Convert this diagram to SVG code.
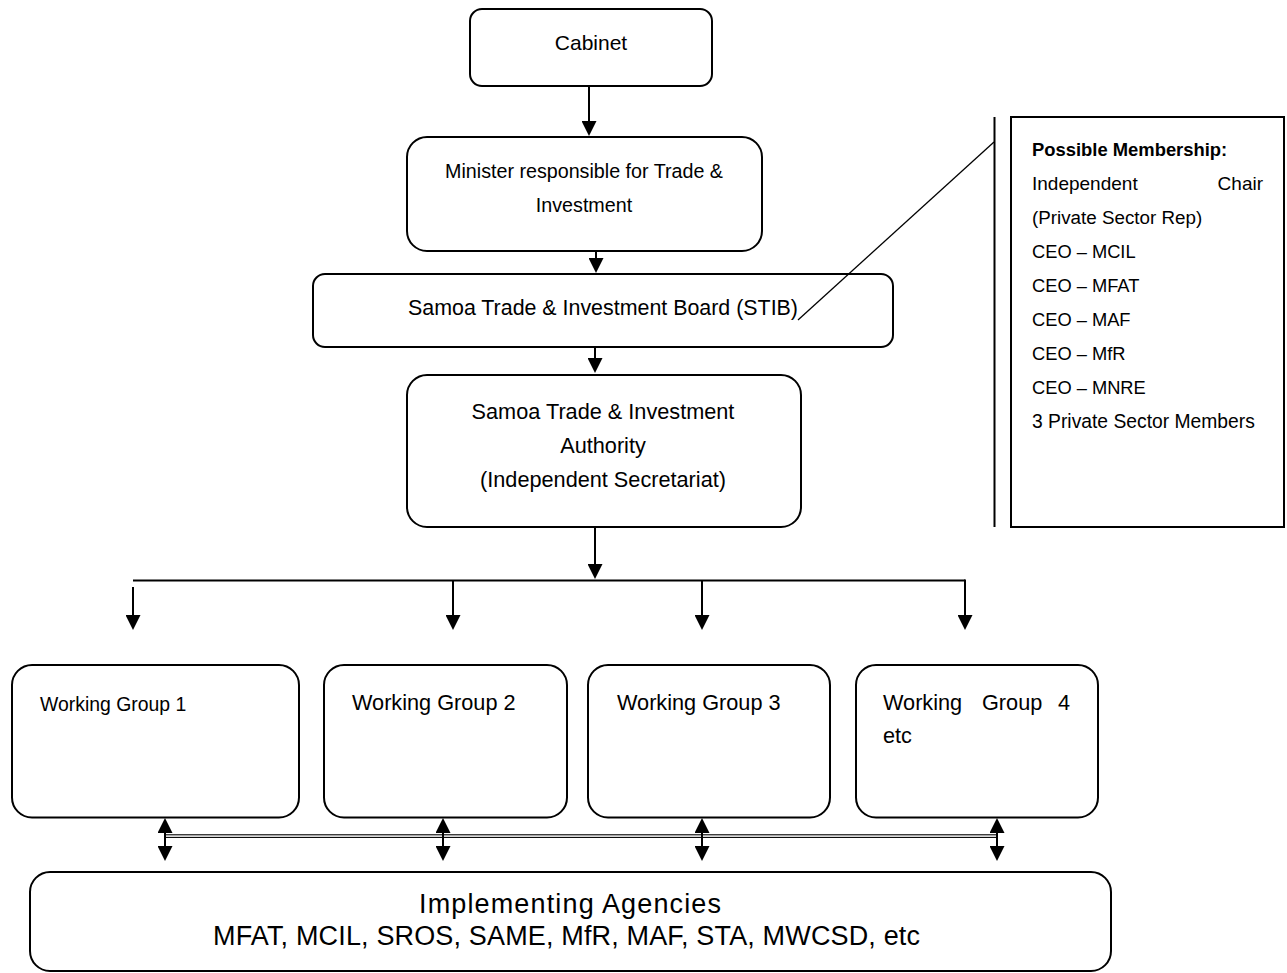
<svg xmlns="http://www.w3.org/2000/svg" width="1287" height="973" viewBox="0 0 1287 973">
<style>
  .box { fill: #ffffff; stroke: #000000; stroke-width: 2; }
  .t { font-family: "Liberation Sans", Arial, sans-serif; fill: #000000; }
  .c { stroke: #000000; stroke-width: 2; fill: none; }
  .thin { stroke: #000000; stroke-width: 1.3; fill: none; }
</style>
<defs>
  <marker id="ah" viewBox="0 0 15 15" refX="13" refY="7.5" markerWidth="15" markerHeight="15" markerUnits="userSpaceOnUse" orient="auto-start-reverse">
    <path d="M0,0 L15,7.5 L0,15 Z" fill="#000000"/>
  </marker>
</defs>
<rect width="1287" height="973" fill="#ffffff"/>

<g id="cabinet">
  <rect class="box" x="470" y="9" width="242" height="77" rx="12" ry="12"/>
  <text class="t" x="591" y="50" font-size="21" text-anchor="middle">Cabinet</text>
</g>

<g id="minister">
  <rect class="box" x="407" y="137" width="355" height="114" rx="20" ry="20"/>
  <text class="t" x="584" y="178" font-size="19.7" text-anchor="middle">Minister responsible for Trade &amp;</text>
  <text class="t" x="584" y="212" font-size="19.7" text-anchor="middle">Investment</text>
</g>

<g id="stib">
  <rect class="box" x="313" y="274" width="580" height="73" rx="12" ry="12"/>
  <text class="t" x="408" y="315" font-size="21.3" textLength="390" lengthAdjust="spacingAndGlyphs">Samoa Trade &amp; Investment Board (STIB)</text>
</g>

<g id="stia">
  <rect class="box" x="407" y="375" width="394" height="152" rx="20" ry="20"/>
  <text class="t" x="603" y="419" font-size="21.7" text-anchor="middle">Samoa Trade &amp; Investment</text>
  <text class="t" x="603" y="453" font-size="21.7" text-anchor="middle">Authority</text>
  <text class="t" x="603" y="487" font-size="21.7" text-anchor="middle">(Independent Secretariat)</text>
</g>

<g id="membership">
  <rect x="1011" y="117" width="273" height="410" fill="#ffffff" stroke="#000000" stroke-width="2"/>
  <text class="t" x="1032" y="156" font-size="18.4" font-weight="bold">Possible Membership:</text>
  <text class="t" x="1032" y="190" font-size="19">Independent</text>
  <text class="t" x="1263" y="190" font-size="19" text-anchor="end">Chair</text>
  <text class="t" x="1032" y="224" font-size="18.8">(Private Sector Rep)</text>
  <text class="t" x="1032" y="258" font-size="18.3">CEO – MCIL</text>
  <text class="t" x="1032" y="292" font-size="18.3">CEO – MFAT</text>
  <text class="t" x="1032" y="326" font-size="18.3">CEO – MAF</text>
  <text class="t" x="1032" y="360" font-size="18.3">CEO – MfR</text>
  <text class="t" x="1032" y="394" font-size="18.3">CEO – MNRE</text>
  <text class="t" x="1032" y="428" font-size="19.3">3 Private Sector Members</text>
</g>

<g id="wg1">
  <rect class="box" x="12" y="665" width="287" height="152.5" rx="20" ry="20"/>
  <text class="t" x="40" y="710.5" font-size="19.4">Working Group 1</text>
</g>

<g id="wg2">
  <rect class="box" x="324" y="665" width="243" height="152.5" rx="20" ry="20"/>
  <text class="t" x="352" y="710" font-size="21.7">Working Group 2</text>
</g>

<g id="wg3">
  <rect class="box" x="588" y="665" width="242" height="152.5" rx="20" ry="20"/>
  <text class="t" x="617" y="710" font-size="21.7">Working Group 3</text>
</g>

<g id="wg4">
  <rect class="box" x="856" y="665" width="242" height="152.5" rx="20" ry="20"/>
  <text class="t" x="883" y="710" font-size="21.7">Working</text>
  <text class="t" x="982" y="710" font-size="21.7">Group</text>
  <text class="t" x="1070" y="710" font-size="21.7" text-anchor="end">4</text>
  <text class="t" x="883" y="743" font-size="21.7">etc</text>
</g>

<g id="agencies">
  <rect class="box" x="30" y="872" width="1081" height="99" rx="20" ry="20"/>
  <text class="t" x="419" y="913" font-size="27" textLength="302" lengthAdjust="spacing">Implementing Agencies</text>
  <text class="t" x="213" y="945" font-size="27" textLength="707" lengthAdjust="spacing">MFAT, MCIL, SROS, SAME, MfR, MAF, STA, MWCSD, etc</text>
</g>

<g id="connectors">
  <line class="c" x1="589" y1="86" x2="589" y2="134" marker-end="url(#ah)"/>
  <line class="c" x1="596" y1="251" x2="596" y2="271" marker-end="url(#ah)"/>
  <line class="c" x1="595" y1="347" x2="595" y2="371" marker-end="url(#ah)"/>
  <line class="c" x1="595" y1="527" x2="595" y2="577" marker-end="url(#ah)"/>
  <line class="c" x1="133" y1="580.5" x2="965" y2="580.5"/>
  <line class="c" x1="133" y1="587" x2="133" y2="628" marker-end="url(#ah)"/>
  <line class="c" x1="453" y1="580.5" x2="453" y2="628" marker-end="url(#ah)"/>
  <line class="c" x1="702" y1="580.5" x2="702" y2="628" marker-end="url(#ah)"/>
  <line class="c" x1="965" y1="579.5" x2="965" y2="628" marker-end="url(#ah)"/>
  <rect x="165" y="834.8" width="832" height="2.6" fill="#ffffff" stroke="#000000" stroke-width="1.1"/>
  <line class="c" x1="165" y1="820" x2="165" y2="859" marker-start="url(#ah)" marker-end="url(#ah)"/>
  <line class="c" x1="443" y1="820" x2="443" y2="859" marker-start="url(#ah)" marker-end="url(#ah)"/>
  <line class="c" x1="702" y1="820" x2="702" y2="859" marker-start="url(#ah)" marker-end="url(#ah)"/>
  <line class="c" x1="997" y1="820" x2="997" y2="859" marker-start="url(#ah)" marker-end="url(#ah)"/>
  <line class="thin" x1="798" y1="320" x2="994" y2="142"/>
  <line class="c" x1="994.5" y1="117" x2="994.5" y2="527"/>
</g>
</svg>
